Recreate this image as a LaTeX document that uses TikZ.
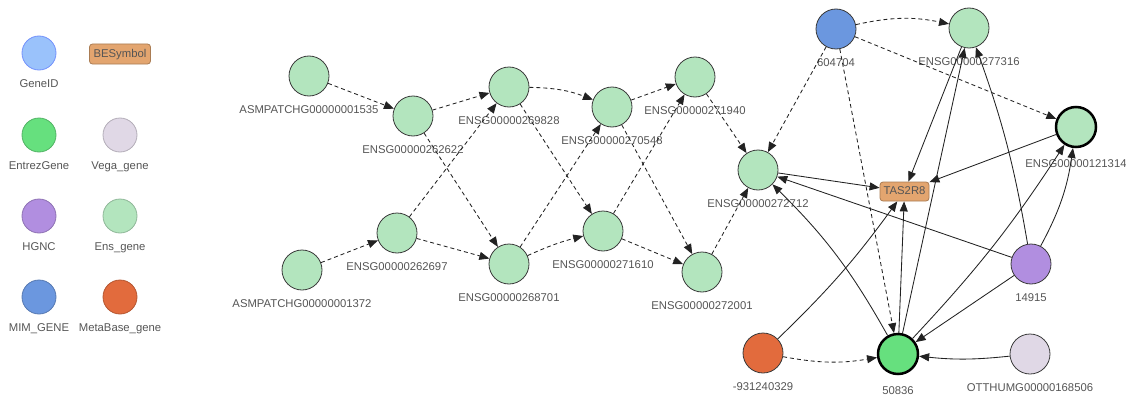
\documentclass[tikz,border=0pt]{standalone}
\usepackage{fontspec}
\setmainfont{Liberation Sans}
\usetikzlibrary{arrows.meta}
\definecolor{ens}{HTML}{B3E5BE}
\definecolor{entrez}{HTML}{66E07E}
\definecolor{mim}{HTML}{6B97DF}
\definecolor{hgnc}{HTML}{B18EE0}
\definecolor{meta}{HTML}{E26B3D}
\definecolor{vega}{HTML}{E0D8E6}
\definecolor{geneid}{HTML}{9AC2FB}
\definecolor{bes}{HTML}{E3A56F}
\definecolor{txtgray}{HTML}{555555}
\definecolor{edgegray}{HTML}{222222}
\definecolor{nodeborder}{HTML}{3A3A3A}
\begin{document}
\begin{tikzpicture}[x=1pt,y=-1pt,
  font=\fontsize{11.3}{13}\selectfont,
  lbl/.style={text=txtgray,inner sep=0pt,text height=8pt,text depth=2pt},
  every label/.style={lbl},
  label distance=9pt,
  gnode/.style={circle,minimum size=40pt,inner sep=0pt,draw=nodeborder,line width=0.8pt},
  thicknode/.style={gnode,draw=black,line width=2.5pt},
  lnode/.style={circle,minimum size=34pt,inner sep=0pt,line width=0.8pt},
  symbox/.style={rectangle,rounded corners=3pt,fill=bes,draw=bes!75!black,line width=0.8pt,text=txtgray,inner sep=0pt,text height=8pt,text depth=2pt},
  edge/.style={draw=edgegray,line width=0.85pt,-{Triangle[length=10pt,width=8pt]}},
  dsh/.style={edge,dash pattern=on 4pt off 3pt},
]
\useasboundingbox (0,0) rectangle (1126,396);

% legend
\node[lnode,fill=geneid,draw=geneid!75!blue,label=below:GeneID] (lgGeneID) at (39,53) {};
\node[symbox,minimum width=61pt,minimum height=20pt] (lgBES) at (120,54) {BESymbol};
\node[lnode,fill=entrez,draw=entrez!80!black,label=below:EntrezGene] (lgEntrez) at (39,135) {};
\node[lnode,fill=vega,draw=vega!80!black,label=below:Vega\_gene] (lgVega) at (120,135) {};
\node[lnode,fill=hgnc,draw=hgnc!80!black,label=below:HGNC] (lgHGNC) at (39,216) {};
\node[lnode,fill=ens,draw=ens!80!black,label=below:Ens\_gene] (lgEns) at (120,216) {};
\node[lnode,fill=mim,draw=mim!80!black,label=below:MIM\_GENE] (lgMIM) at (39,297) {};
\node[lnode,fill=meta,draw=meta!80!black,label=below:MetaBase\_gene] (lgMeta) at (120,297) {};

% main nodes
\node[gnode,fill=ens,label=below:ASMPATCHG00000001535] (a1535) at (309,76) {};
\node[gnode,fill=ens,label=below:ENSG00000262622] (n262622) at (413,116) {};
\node[gnode,fill=ens,label=below:ENSG00000269828] (n269828) at (509,87) {};
\node[gnode,fill=ens,label=below:ENSG00000262697] (n262697) at (397,233) {};
\node[gnode,fill=ens,label=below:ASMPATCHG00000001372] (a1372) at (302,270) {};
\node[gnode,fill=ens,label=below:ENSG00000268701] (n268701) at (509,264) {};
\node[gnode,fill=ens,label=below:ENSG00000270548] (n270548) at (612,107) {};
\node[gnode,fill=ens,label=below:ENSG00000271940] (n271940) at (695,77) {};
\node[gnode,fill=ens,label=below:ENSG00000271610] (n271610) at (603,231) {};
\node[gnode,fill=ens,label=below:ENSG00000272001] (n272001) at (702,272) {};
\node[gnode,fill=ens,label=below:ENSG00000272712] (n272712) at (758,170) {};
\node[gnode,fill=mim,label=below:604704] (m604704) at (836,29) {};
\node[gnode,fill=ens,label=below:ENSG00000277316] (n277316) at (969,28) {};
\node[thicknode,fill=ens,label={[label distance=11pt]below:ENSG00000121314}] (n121314) at (1076,127) {};
\node[symbox,minimum width=49pt,minimum height=19pt] (tas) at (904.5,191.5) {TAS2R8};
\node[gnode,fill=hgnc,label=below:14915] (h14915) at (1031,264) {};
\node[gnode,fill=meta,label=below:-931240329] (mb) at (763,353) {};
\node[thicknode,fill=entrez,label={[label distance=11pt]below:50836}] (e50836) at (898,354) {};
\node[gnode,fill=vega,label=below:OTTHUMG00000168506] (ott) at (1030,354) {};

% dashed edges
\draw[dsh] (a1535) -- (n262622);
\draw[dsh] (n262622) -- (n269828);
\draw[dsh] (n262622) -- (n268701);
\draw[dsh] (n262697) -- (n269828);
\draw[dsh] (n262697) -- (n268701);
\draw[dsh] (a1372) -- (n262697);
\draw[dsh] (n269828) to[bend left=10] (n270548);
\draw[dsh] (n269828) -- (n271610);
\draw[dsh] (n268701) -- (n270548);
\draw[dsh] (n268701) to[bend left=5] (n271610);
\draw[dsh] (n270548) -- (n271940);
\draw[dsh] (n270548) -- (n272001);
\draw[dsh] (n271610) -- (n271940);
\draw[dsh] (n271610) -- (n272001);
\draw[dsh] (n271940) -- (n272712);
\draw[dsh] (n272001) -- (n272712);
\draw[dsh] (m604704) -- (n272712);
\draw[dsh] (m604704) to[bend left=12] (n277316);
\draw[dsh] (m604704) -- (n121314);
\draw[dsh] (m604704) -- (e50836);
\draw[dsh] (mb) to[bend right=10] (e50836);

% solid edges
\draw[edge] (n272712) -- (tas);
\draw[edge] (n277316) -- (tas);
\draw[edge] (e50836) -- (n277316);
\draw[edge] (h14915) to[bend right=5] (n277316);
\draw[edge] (n121314) -- (tas);
\draw[edge] (h14915) to[bend right=10] (n121314);
\draw[edge] (e50836) to[bend right=5] (n121314);
\draw[edge] (h14915) -- (n272712);
\draw[edge] (h14915) -- (e50836);
\draw[edge] (e50836) to[bend right=8] (n272712);
\draw[edge] (e50836) -- (tas);
\draw[edge] (mb) to[bend right=5] (tas);
\draw[edge] (ott) to[bend left=6] (e50836);
\end{tikzpicture}
\end{document}
